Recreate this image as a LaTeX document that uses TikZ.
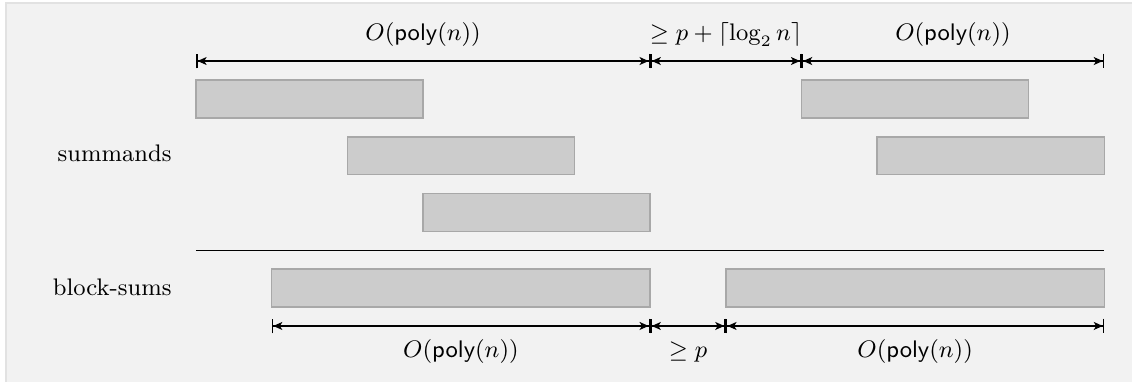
\documentclass[tikz,border=0pt]{standalone}
\usetikzlibrary{arrows.meta}
\definecolor{panel}{HTML}{F2F2F2}
\definecolor{panelrule}{HTML}{E2E2E2}
\definecolor{blockfill}{HTML}{CCCCCC}
\definecolor{blockrule}{HTML}{A8A8A8}
\begin{document}
\begin{tikzpicture}[
  block/.style={fill=blockfill, draw=blockrule, line width=0.6pt, inner sep=0pt,
                outer sep=0pt, minimum height=0.5cm, anchor=west},
  dimline/.style={line width=0.5pt,
    {Bar[width=5.5pt, line width=0.6pt]Stealth[length=3.4pt, width=3pt, inset=0.9pt]}-{Stealth[length=3.4pt, width=3pt, inset=0.9pt]Bar[width=5.5pt, line width=0.6pt]}},
  lab/.style={font=\small, anchor=base, inner sep=0pt},
  rowlab/.style={font=\small, anchor=mid east, inner sep=0pt},
]
\useasboundingbox (-2.589,-4.227) rectangle (12.365,0.806);
\fill[panel, draw=panelrule] (-2.51,0.766) rectangle (12.6,-4.5);

% tick positions of the upper and lower dimension lines
\coordinate (a0) at (0,0);
\coordinate (a6) at (6,0);
\coordinate (a8) at (8,0);
\coordinate (a12) at (12,0);
\coordinate (b1) at (1,-3.5);
\coordinate (b6) at (6,-3.5);
\coordinate (b7) at (7,-3.5);
\coordinate (b12) at (12,-3.5);

% summands
\node[block, minimum width=3cm] (s1) at (0,-0.5) {};
\node[block, minimum width=3cm] (s2) at (2,-1.25) {};
\node[block, minimum width=3cm] (s3) at (3,-2) {};
\node[block, minimum width=3cm] (s4) at (8,-0.5) {};
\node[block, minimum width=3cm] (s5) at (9,-1.25) {};

% separator
\coordinate (l0) at (0,-2.5);
\coordinate (l1) at (12,-2.5);
\draw[line width=0.5pt] (l0) -- (l1);

% block-sums
\node[block, minimum width=5cm] (k1) at (1,-3) {};
\node[block, minimum width=5cm] (k2) at (7,-3) {};

% row labels
\node[rowlab] (rs) at (-0.317,-1.25) {summands};
\node[rowlab] (rb) at (-0.317,-3.02) {block-sums};

% dimension lines
\draw[dimline] (a0) -- (a6);
\draw[dimline] (a6) -- (a8);
\draw[dimline] (a8) -- (a12);
\draw[dimline] (b1) -- (b6);
\draw[dimline] (b6) -- (b7);
\draw[dimline] (b7) -- (b12);

% dimension labels
\node[lab] (la) at (3,0.277) {$O(\textsf{poly}(n))$};
\node[lab] (lb) at (7,0.277) {$\geq p + \lceil \log_2 n \rceil$};
\node[lab] (lc) at (10,0.277) {$O(\textsf{poly}(n))$};
\node[lab] (ld) at (3.5,-3.915) {$O(\textsf{poly}(n))$};
\node[lab] (le) at (6.5,-3.915) {$\geq p$};
\node[lab] (lf) at (9.5,-3.915) {$O(\textsf{poly}(n))$};
\end{tikzpicture}
\end{document}
